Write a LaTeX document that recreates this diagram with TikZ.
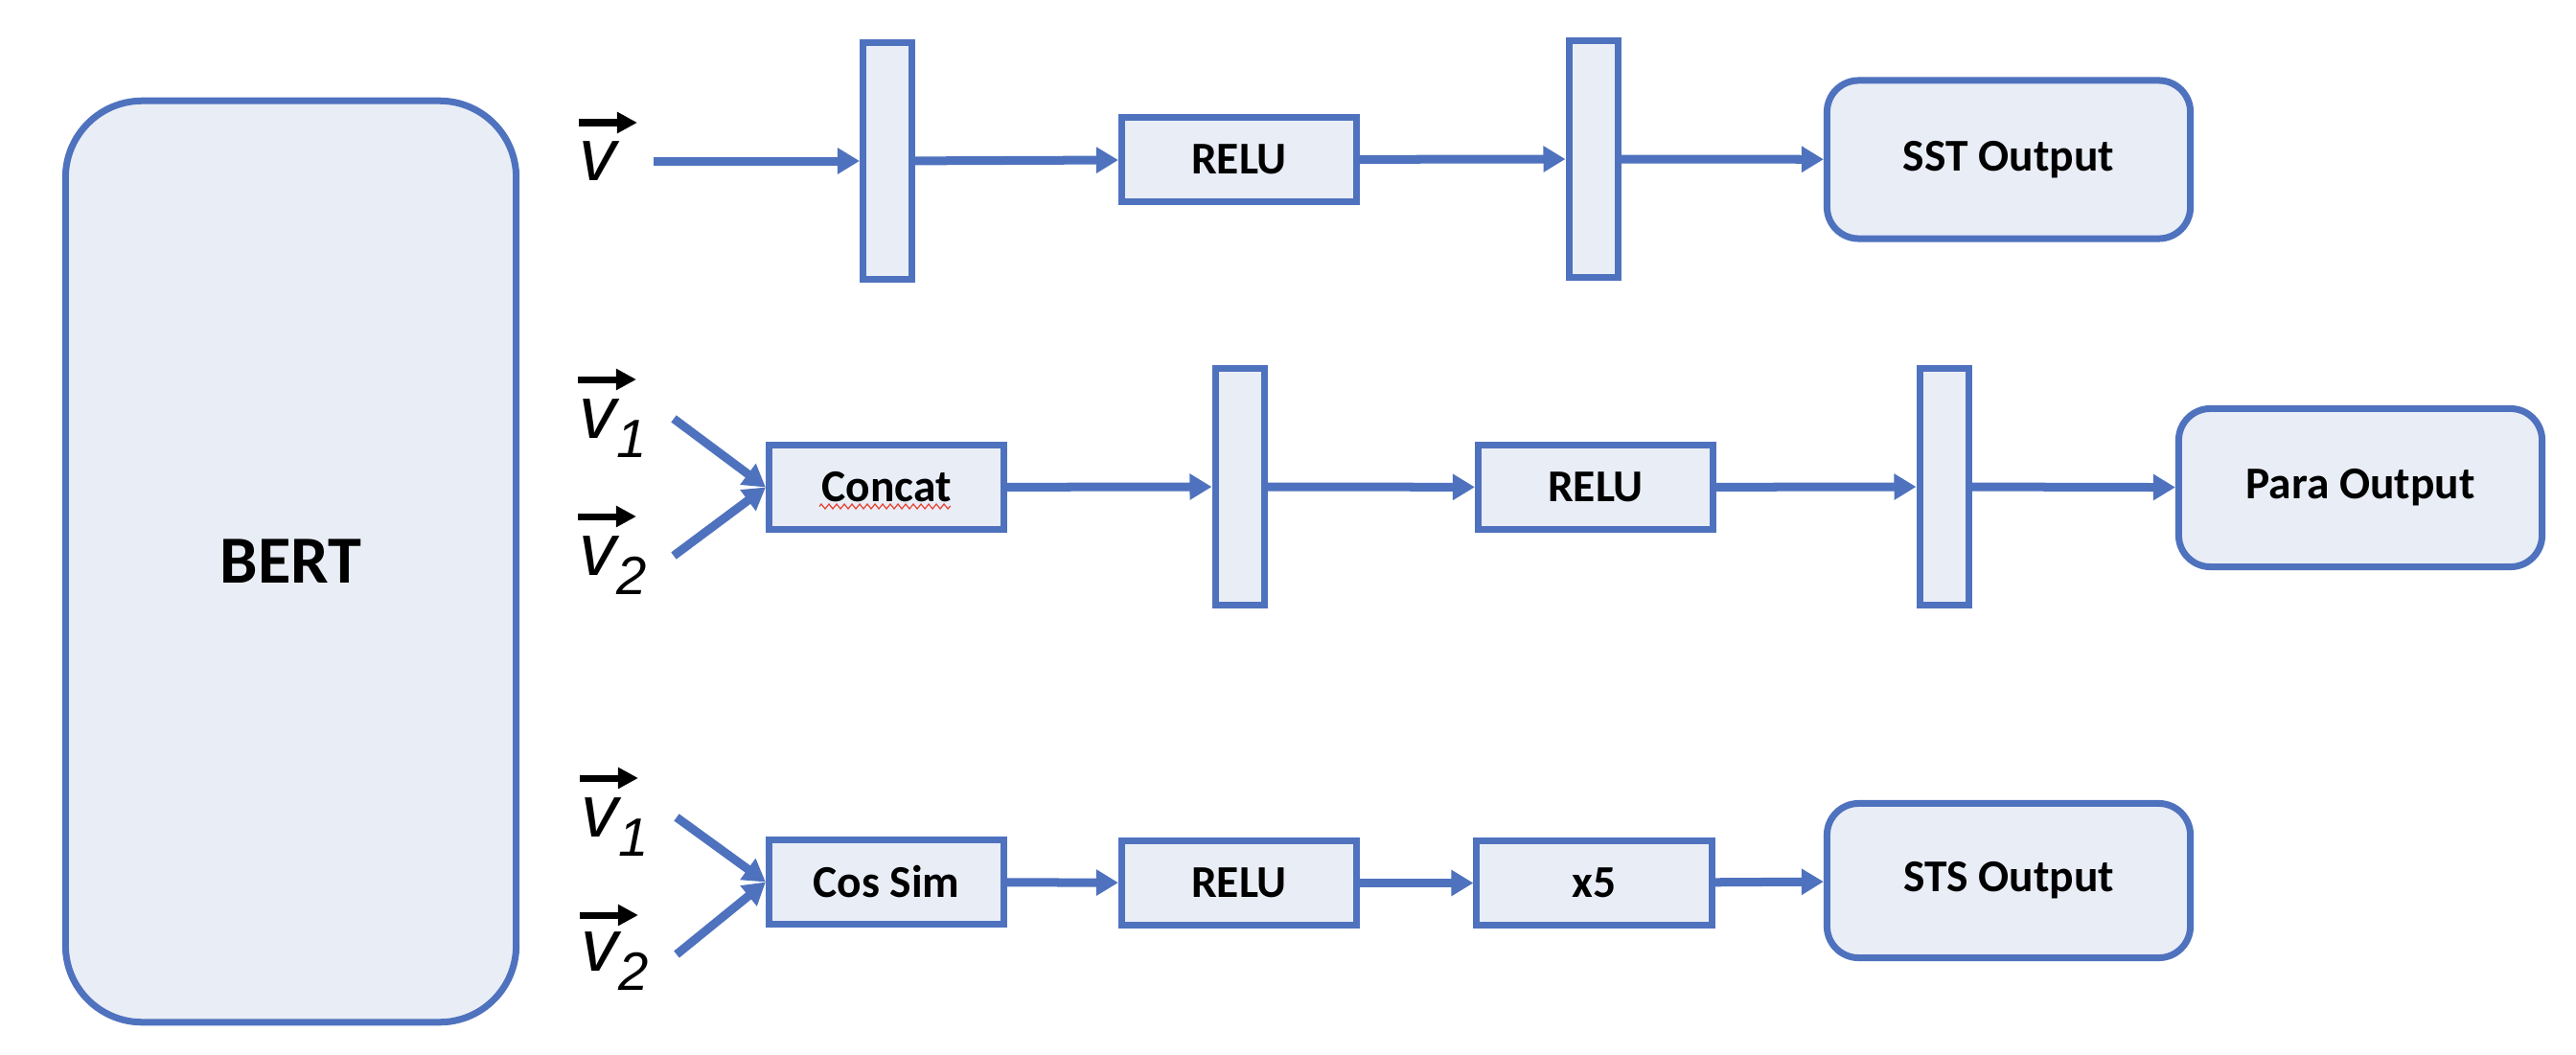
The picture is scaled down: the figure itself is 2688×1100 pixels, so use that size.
\documentclass[tikz,border=0pt]{standalone}
\usepackage{fontspec}
\setmainfont{Carlito}
\newfontfamily\arialfont{Liberation Sans}
\usetikzlibrary{arrows.meta,decorations.pathmorphing}
\definecolor{bblue}{HTML}{4F72BE}
\definecolor{bfill}{HTML}{E9EDF6}
\definecolor{spellred}{HTML}{E8412F}
\newcommand\vsub[1]{\raisebox{-0.2cm}{\fontsize{16}{18}\selectfont #1}}
\tikzset{
  box/.style={draw=bblue, fill=bfill, line width=0.07cm, inner sep=0pt,
    font=\fontsize{13.5}{16}\selectfont\bfseries},
  narrowbox/.style={box, minimum width=0.51cm, minimum height=2.47cm},
  procbox/.style={box, minimum width=2.45cm, minimum height=0.87cm},
  outbox/.style={box, rounded corners=0.33cm, minimum width=3.79cm, minimum height=1.65cm},
  conn/.style={draw=bblue, line width=0.09cm, -{Triangle[length=0.23cm,width=0.26cm]}},
  vecarrow/.style={draw=black, line width=0.07cm, -{Triangle[length=0.21cm,width=0.21cm]}},
  veclabel/.style={anchor=base west, inner sep=0pt, font=\arialfont\itshape\fontsize{22}{26}\selectfont},
}
\begin{document}
\begin{tikzpicture}[x=0.01cm, y=-0.01cm]
\useasboundingbox[fill=white] (0,0) rectangle (2688,1100);

% BERT
\node[box, rounded corners=0.8cm, minimum width=4.70cm, minimum height=9.61cm,
  font=\fontsize{20}{24}\selectfont\bfseries] (bert) at (303.5,586) {BERT};

% Row 1
\node[narrowbox] (n1a) at (926,168) {};
\node[procbox] (relu1) at (1293,166.5) {RELU};
\node[narrowbox] (n1b) at (1662.5,166) {};
\node[outbox] (sst) at (2096,166.5) {SST Output};

% Row 2
\node[procbox] (concat) at (925,508.5) {Concat};
\node[narrowbox] (n2a) at (1293.5,508) {};
\node[procbox] (relu2) at (1665,508.5) {RELU};
\node[narrowbox] (n2b) at (2028.5,508) {};
\node[outbox] (para) at (2463,509) {Para Output};

% Row 3
\node[procbox] (cossim) at (925,920.5) {Cos Sim};
\node[procbox] (relu3) at (1293,921.5) {RELU};
\node[procbox] (x5) at (1663.5,921.5) {x5};
\node[outbox, minimum height=1.61cm] (sts) at (2096,919) {STS Output};

% spell-check underline
\draw[spellred, line width=0.012cm, decorate, decoration={zigzag, segment length=0.08cm, amplitude=0.025cm}]
  ([shift={(-70,20)}]concat.center) -- ([shift={(67,20)}]concat.center);

% vector labels
\node[veclabel] (v0) at (604,188) {v};
\node[veclabel] (v1a) at (604,457) {v\vsub{1}};
\node[veclabel] (v2a) at (604,600) {v\vsub{2}};
\node[veclabel] (v1b) at (606,873) {v\vsub{1}};
\node[veclabel] (v2b) at (606,1013) {v\vsub{2}};
\draw[vecarrow] (604,128) -- (665,128);
\draw[vecarrow] (603,396) -- (664,396);
\draw[vecarrow] (603,539) -- (664,539);
\draw[vecarrow] (605,812) -- (666,812);
\draw[vecarrow] (605,955) -- (666,955);

% free ends of input arrows
\coordinate (in0) at (682,168);
\coordinate (in1a) at (703,437);
\coordinate (in2a) at (703,580);
\coordinate (in1b) at (706,853);
\coordinate (in2b) at (706,996);

% connectors row 1
\draw[conn] (in0) -- (n1a);
\draw[conn] (n1a) -- (relu1);
\draw[conn] (relu1) -- (n1b);
\draw[conn] (n1b) -- (sst);

% connectors row 2
\draw[conn] (in1a) -- (concat.west);
\draw[conn] (in2a) -- (concat.west);
\draw[conn] (concat) -- (n2a);
\draw[conn] (n2a) -- (relu2);
\draw[conn] (relu2) -- (n2b);
\draw[conn] (n2b) -- (para);

% connectors row 3
\draw[conn] (in1b) -- (cossim.west);
\draw[conn] (in2b) -- (cossim.west);
\draw[conn] (cossim) -- (relu3);
\draw[conn] (relu3) -- (x5);
\draw[conn] (x5) -- (sts);
\end{tikzpicture}
\end{document}
